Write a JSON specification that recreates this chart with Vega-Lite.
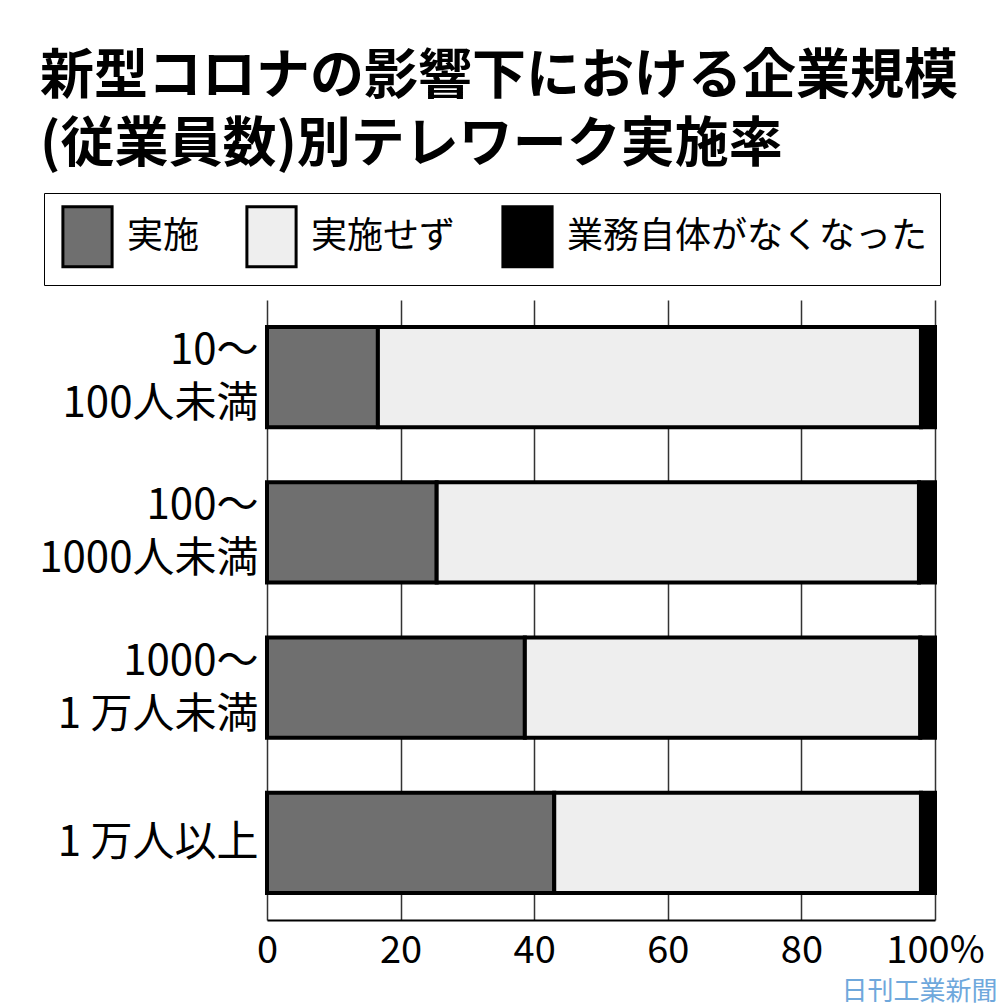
{
  "$schema": "https://vega.github.io/schema/vega-lite/v6.json",
  "width": 668,
  "height": 620,
  "autosize": {"type": "none"},
  "padding": {"left": 267, "top": 300, "right": 65, "bottom": 87},
  "background": "white",
  "title": {
    "text": ["新型コロナの影響下における企業規模", "(従業員数)別テレワーク実施率"],
    "anchor": "start",
    "frame": "group",
    "dx": -227,
    "fontSize": 54,
    "fontWeight": "bold",
    "lineHeight": 68,
    "color": "black",
    "offset": 20
  },
  "data": {
    "values": [
      {"size": "10～\n100人未満", "status": "実施", "ord": 1, "pct": 16.6},
      {"size": "10～\n100人未満", "status": "実施せず", "ord": 2, "pct": 81.3},
      {"size": "10～\n100人未満", "status": "業務自体がなくなった", "ord": 3, "pct": 2.1},
      {"size": "100～\n1000人未満", "status": "実施", "ord": 1, "pct": 25.4},
      {"size": "100～\n1000人未満", "status": "実施せず", "ord": 2, "pct": 72.2},
      {"size": "100～\n1000人未満", "status": "業務自体がなくなった", "ord": 3, "pct": 2.4},
      {"size": "1000～\n1 万人未満", "status": "実施", "ord": 1, "pct": 38.6},
      {"size": "1000～\n1 万人未満", "status": "実施せず", "ord": 2, "pct": 59.2},
      {"size": "1000～\n1 万人未満", "status": "業務自体がなくなった", "ord": 3, "pct": 2.2},
      {"size": "1 万人以上", "status": "実施", "ord": 1, "pct": 43.0},
      {"size": "1 万人以上", "status": "実施せず", "ord": 2, "pct": 54.9},
      {"size": "1 万人以上", "status": "業務自体がなくなった", "ord": 3, "pct": 2.1}
    ]
  },
  "mark": {"type": "bar", "stroke": "black", "strokeWidth": 4},
  "encoding": {
    "y": {
      "field": "size",
      "type": "nominal",
      "sort": null,
      "scale": {"paddingInner": 0.355, "paddingOuter": 0.174},
      "axis": {
        "title": null,
        "domain": false,
        "ticks": false,
        "labelExpr": "split(datum.label, '\\n')",
        "labelFontSize": 42,
        "labelLineHeight": 53,
        "labelPadding": 9,
        "labelLimit": 300,
        "labelColor": "black",
        "labelOffset": {"condition": {"test": "datum.value == '1 万人以上'", "value": 0}, "value": -26}
      }
    },
    "x": {
      "field": "pct",
      "type": "quantitative",
      "stack": "zero",
      "scale": {"domain": [0, 100], "nice": false},
      "axis": {
        "values": [0, 20, 40, 60, 80, 100],
        "labelExpr": "datum.value == 100 ? '100%' : datum.label",
        "labelFlush": false,
        "labelFontSize": 38,
        "labelPadding": 12,
        "labelColor": "black",
        "ticks": false,
        "domainColor": "black",
        "domainWidth": 2,
        "grid": true,
        "gridColor": "#333333",
        "gridWidth": 1.5,
        "title": "日刊工業新聞",
        "titleColor": "#6fa8dc",
        "titleFontSize": 26,
        "titleFontWeight": "normal",
        "titleAnchor": "end",
        "titleAlign": "right",
        "titleBaseline": "bottom",
        "titleX": 730,
        "titleY": 84
      }
    },
    "color": {
      "field": "status",
      "type": "nominal",
      "scale": {
        "domain": ["実施", "実施せず", "業務自体がなくなった"],
        "range": ["#6f6f6f", "#eeeeee", "#000000"]
      },
      "legend": {
        "title": null,
        "orient": "none",
        "legendX": -223,
        "legendY": -107,
        "direction": "horizontal",
        "columns": 3,
        "symbolType": "M-0.82,-1L0.82,-1L0.82,1L-0.82,1Z",
        "symbolSize": 3600,
        "symbolStrokeColor": "black",
        "symbolStrokeWidth": 3,
        "symbolOpacity": 1,
        "labelFontSize": 36,
        "labelColor": "black",
        "labelOffset": 8,
        "labelLimit": 500,
        "columnPadding": 40,
        "padding": 12,
        "strokeColor": "black",
        "fillColor": "white"
      }
    },
    "order": {"field": "ord", "type": "quantitative"}
  },
  "config": {
    "font": "Noto Sans CJK JP",
    "view": {"stroke": null}
  }
}
